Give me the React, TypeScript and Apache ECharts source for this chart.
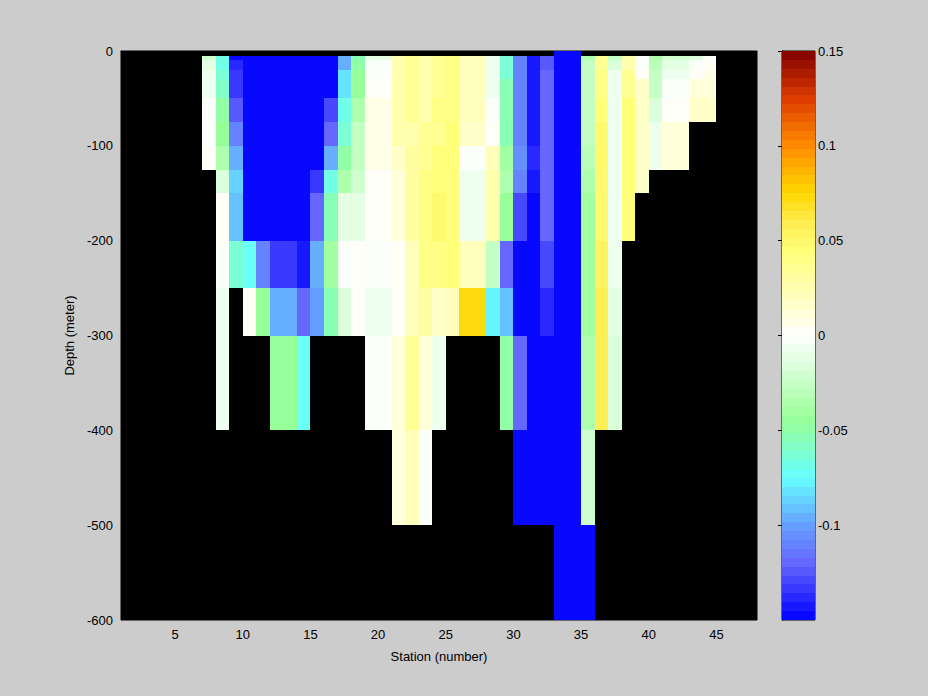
import React, { useEffect, useRef } from "react";
import * as echarts from "echarts";

const N = null;
const B = -0.16; // below colour range (saturated blue)

// cell edges
const stationEdges = Array.from({ length: 48 }, (_, i) => i + 1); // stations 1..48
const depthEdges = [0, 5, 10, 20, 30, 50, 75, 100, 125, 150, 200, 250, 300, 400, 500, 600];
const xTicks = [5, 10, 15, 20, 25, 30, 35, 40, 45];
const colorTicks = [-0.1, -0.05, 0, 0.05, 0.1, 0.15];

// values per depth layer, stations 1..47
const d0_5 = [
  N, N, N, N, N, N, N, N, N, N,
  N, N, N, N, N, N, N, N, N, N,
  N, N, N, N, N, N, N, N, N, N,
  N, N, B, B, N, N, N, N, N, N,
  N, N, N, N, N, N, N,
];
const d5_10 = [
  N, N, N, N, N, N, -0.022, -0.068, -0.146, B,
  B, B, B, B, B, B, -0.098, -0.052, -0.01, -0.01,
  0.027, 0.034, 0.028, 0.034, 0.04, 0.022, 0.022, -0.009, -0.062, -0.11,
  -0.142, -0.125, B, B, -0.036, 0.036, -0.024, 0.028, -0.002, -0.036,
  -0.022, -0.022, -0.015, -0.004, N, N, N,
];
const d10_20 = [
  N, N, N, N, N, N, -0.013, -0.068, -0.14, B,
  B, B, B, B, B, B, -0.094, -0.05, -0.004, -0.004,
  0.027, 0.034, 0.028, 0.034, 0.04, 0.022, 0.022, -0.009, -0.062, -0.11,
  -0.142, -0.125, B, B, -0.027, 0.036, -0.017, 0.028, -0.002, -0.029,
  -0.01, -0.01, -0.004, 0.003, N, N, N,
];
const d20_30 = [
  N, N, N, N, N, N, -0.009, -0.064, -0.135, B,
  B, B, B, B, B, B, -0.084, -0.044, -0.004, -0.004,
  0.027, 0.034, 0.028, 0.034, 0.04, 0.022, 0.022, -0.009, -0.062, -0.11,
  -0.142, -0.12, B, B, -0.027, 0.038, -0.008, 0.034, 0.004, -0.024,
  -0.006, -0.006, 0.004, 0.007, N, N, N,
];
const d30_50 = [
  N, N, N, N, N, N, -0.009, -0.06, -0.135, B,
  B, B, B, B, B, B, -0.08, -0.043, 0.003, 0.003,
  0.027, 0.034, 0.028, 0.034, 0.04, 0.022, 0.022, -0.009, -0.055, -0.11,
  -0.142, -0.12, B, B, -0.027, 0.038, -0.007, 0.034, 0.017, -0.024,
  -0.004, -0.004, 0.01, 0.01, N, N, N,
];
const d50_75 = [
  N, N, N, N, N, N, -0.004, -0.05, -0.125, B,
  B, B, B, B, B, -0.13, -0.066, -0.033, 0.008, 0.008,
  0.027, 0.034, 0.028, 0.04, 0.04, 0.022, 0.022, -0.003, -0.055, -0.11,
  -0.142, -0.12, B, B, -0.027, 0.043, -0.007, 0.043, 0.017, -0.016,
  0.003, 0.003, 0.017, 0.017, N, N, N,
];
const d75_100 = [
  N, N, N, N, N, N, -0.004, -0.044, -0.108, B,
  B, B, B, B, B, -0.12, -0.062, -0.026, 0.008, 0.008,
  0.027, 0.025, 0.034, 0.037, 0.043, 0.017, 0.017, 0.004, -0.055, -0.11,
  -0.142, -0.12, B, B, -0.027, 0.048, -0.007, 0.043, 0.017, -0.009,
  0.01, 0.01, N, N, N, N, N,
];
const d100_125 = [
  N, N, N, N, N, N, 0.004, -0.036, -0.097, B,
  B, B, B, B, B, -0.094, -0.05, -0.024, 0.008, 0.008,
  0.017, 0.03, 0.034, 0.043, 0.043, -0.004, -0.004, 0.022, -0.04, -0.105,
  -0.14, -0.12, B, B, -0.031, 0.048, -0.007, 0.043, 0.017, -0.009,
  0.012, 0.012, N, N, N, N, N,
];
const d125_150 = [
  N, N, N, N, N, N, N, -0.015, -0.088, B,
  B, B, B, B, -0.135, -0.066, -0.033, -0.02, 0.003, 0.003,
  0.013, 0.03, 0.04, 0.043, 0.043, -0.009, -0.009, 0.028, -0.034, -0.11,
  -0.144, -0.12, B, B, -0.036, 0.048, -0.007, 0.043, 0.017, N,
  N, N, N, N, N, N, N,
];
const d150_200 = [
  N, N, N, N, N, N, N, 0.003, -0.092, B,
  B, B, B, B, -0.12, -0.052, -0.013, -0.01, 0.003, 0.003,
  0.012, 0.03, 0.04, 0.048, 0.043, -0.009, -0.009, 0.028, -0.045, -0.13,
  -0.148, -0.12, B, B, -0.038, 0.047, -0.006, 0.043, N, N,
  N, N, N, N, N, N, N,
];
const d200_250 = [
  N, N, N, N, N, N, N, -0.003, -0.064, -0.074,
  -0.11, -0.132, -0.132, -0.142, -0.094, -0.042, -0.003, 0.004, -0.003, -0.003,
  0.003, 0.022, 0.04, 0.04, 0.043, 0.021, 0.021, -0.027, -0.12, B,
  B, -0.13, B, B, -0.042, 0.052, -0.007, N, N, N,
  N, N, N, N, N, N, N,
];
const d250_300 = [
  N, N, N, N, N, N, N, -0.009, N, 0.003,
  -0.044, -0.094, -0.094, -0.12, -0.1, -0.055, -0.018, 0.004, -0.009, -0.009,
  0.003, 0.022, 0.031, 0.018, 0.022, 0.074, 0.074, -0.078, -0.09, B,
  B, -0.136, B, B, -0.042, 0.058, -0.013, N, N, N,
  N, N, N, N, N, N, N,
];
const d300_400 = [
  N, N, N, N, N, N, N, -0.009, N, N,
  N, -0.046, -0.046, -0.075, N, N, N, N, -0.003, -0.003,
  0.01, 0.034, 0.012, -0.007, N, N, N, N, -0.05, -0.12,
  B, B, B, B, -0.036, 0.058, -0.018, N, N, N,
  N, N, N, N, N, N, N,
];
const d400_500 = [
  N, N, N, N, N, N, N, N, N, N,
  N, N, N, N, N, N, N, N, N, N,
  0.01, 0.02, -0.002, N, N, N, N, N, N, B,
  B, B, B, B, -0.02, N, N, N, N, N,
  N, N, N, N, N, N, N,
];
const d500_600 = [
  N, N, N, N, N, N, N, N, N, N,
  N, N, N, N, N, N, N, N, N, N,
  N, N, N, N, N, N, N, N, N, N,
  N, N, B, B, -0.146, N, N, N, N, N,
  N, N, N, N, N, N, N,
];

const layers = [
  d0_5, d5_10, d10_20, d20_30, d30_50, d50_75, d75_100, d100_125,
  d125_150, d150_200, d200_250, d250_300, d300_400, d400_500, d500_600,
];

// colour map (blue - cyan - green - white - yellow - orange - dark red), 64 steps
const CMIN = -0.15;
const CMAX = 0.15;
const LEVELS = 64;
const cmapStops: number[][] = [
  [-0.15, 0, 0, 255],
  [-0.12, 102, 102, 255],
  [-0.1, 102, 160, 255],
  [-0.075, 102, 255, 255],
  [-0.06, 128, 255, 204],
  [-0.045, 150, 255, 150],
  [-0.02, 210, 255, 210],
  [0, 255, 255, 255],
  [0.02, 255, 255, 190],
  [0.045, 255, 255, 120],
  [0.06, 255, 235, 80],
  [0.075, 255, 215, 0],
  [0.1, 255, 140, 0],
  [0.125, 220, 60, 0],
  [0.15, 128, 0, 0],
];
function interp(v: number): string {
  for (let i = 0; i < cmapStops.length - 1; i++) {
    const a = cmapStops[i];
    const b = cmapStops[i + 1];
    if (v <= b[0] || i === cmapStops.length - 2) {
      const t = Math.max(0, Math.min(1, (v - a[0]) / (b[0] - a[0])));
      const r = Math.round(a[1] + (b[1] - a[1]) * t);
      const g = Math.round(a[2] + (b[2] - a[2]) * t);
      const bb = Math.round(a[3] + (b[3] - a[3]) * t);
      return `rgb(${r},${g},${bb})`;
    }
  }
  return "#000";
}
function levelOf(v: number): number {
  const k = Math.floor(((v - CMIN) / (CMAX - CMIN)) * LEVELS);
  return Math.max(0, Math.min(LEVELS - 1, k));
}
function levelCenter(k: number): number {
  return CMIN + ((k + 0.5) / LEVELS) * (CMAX - CMIN);
}
function colorOf(v: number): string {
  return interp(levelCenter(levelOf(v)));
}

const rectItem = (params: any, api: any) => {
  const p0 = api.coord([api.value(0), api.value(2)]);
  const p1 = api.coord([api.value(1), api.value(3)]);
  const x = Math.round(Math.min(p0[0], p1[0]));
  const y = Math.round(Math.min(p0[1], p1[1]));
  const x2 = Math.round(Math.max(p0[0], p1[0]));
  const y2 = Math.round(Math.max(p0[1], p1[1]));
  return {
    type: "rect",
    shape: { x, y, width: x2 - x, height: y2 - y },
    style: { fill: colorOf(api.value(4)) },
  };
};

export default function App() {
  const ref = useRef<HTMLDivElement>(null);
  useEffect(() => {
    if (!ref.current) return;
    const chart = echarts.init(ref.current, null, { renderer: "svg" });

    const cells: number[][] = [];
    layers.forEach((row, r) => {
      row.forEach((v, s) => {
        if (v === null || v === undefined) return;
        cells.push([stationEdges[s], stationEdges[s + 1], -depthEdges[r], -depthEdges[r + 1], v as number]);
      });
    });

    const bar: number[][] = [];
    for (let k = 0; k < LEVELS; k++) {
      const lo = CMIN + (k / LEVELS) * (CMAX - CMIN);
      const hi = CMIN + ((k + 1) / LEVELS) * (CMAX - CMIN);
      bar.push([0, 1, lo, hi, levelCenter(k)]);
    }

    const font = "Liberation Sans, Arial, Helvetica, sans-serif";
    const txt = { color: "#000", fontSize: 13, fontFamily: font };

    chart.setOption({
      animation: false,
      backgroundColor: "#cccccc",
      textStyle: { fontFamily: font },
      grid: [
        { left: 121, top: 51, width: 636, height: 569, show: true, backgroundColor: "#000", borderColor: "#000", borderWidth: 1 },
        { left: 782, top: 51, width: 33, height: 569, show: true, backgroundColor: "transparent", borderColor: "#000", borderWidth: 1 },
      ],
      xAxis: [
        {
          type: "value", gridIndex: 0, min: 1, max: 48,
          splitLine: { show: false },
          axisLine: { show: true, lineStyle: { color: "#000" } },
          axisTick: { show: false },
          axisLabel: { ...txt, margin: 8, customValues: xTicks },
          name: "Station (number)", nameLocation: "middle", nameGap: 30,
          nameTextStyle: txt,
        },
        {
          type: "value", gridIndex: 1, min: 0, max: 1, show: false,
        },
      ],
      yAxis: [
        {
          type: "value", gridIndex: 0, min: -600, max: 0, interval: 100,
          splitLine: { show: false },
          axisLine: { show: true, lineStyle: { color: "#000" } },
          axisTick: { show: false },
          axisLabel: { ...txt, margin: 8 },
          name: "Depth (meter)", nameLocation: "middle", nameGap: 38,
          nameTextStyle: txt,
        },
        {
          type: "value", gridIndex: 1, min: CMIN, max: CMAX, position: "right",
          splitLine: { show: false },
          axisLine: { show: true, lineStyle: { color: "#000" } },
          axisTick: { show: true, inside: true, length: 4, lineStyle: { color: "#000" }, customValues: colorTicks },
          axisLabel: { ...txt, margin: 3, customValues: colorTicks },
        },
        {
          type: "value", gridIndex: 1, min: CMIN, max: CMAX, position: "left",
          splitLine: { show: false },
          axisLine: { show: true, lineStyle: { color: "#000" } },
          axisTick: { show: true, inside: true, length: 4, lineStyle: { color: "#000" }, customValues: colorTicks },
          axisLabel: { show: false },
        },
      ],
      series: [
        {
          type: "custom", xAxisIndex: 0, yAxisIndex: 0,
          renderItem: rectItem, data: cells,
          encode: { x: [0, 1], y: [2, 3] }, silent: true,
        },
        {
          type: "custom", xAxisIndex: 1, yAxisIndex: 1,
          renderItem: rectItem, data: bar,
          encode: { x: [0, 1], y: [2, 3] }, silent: true, z: 1,
        },
      ],
    });
    return () => chart.dispose();
  }, []);
  return (
    <div
      ref={ref}
      style={{ position: "absolute", left: 0, top: 0, width: 928, height: 696, background: "#cccccc" }}
    />
  );
}
